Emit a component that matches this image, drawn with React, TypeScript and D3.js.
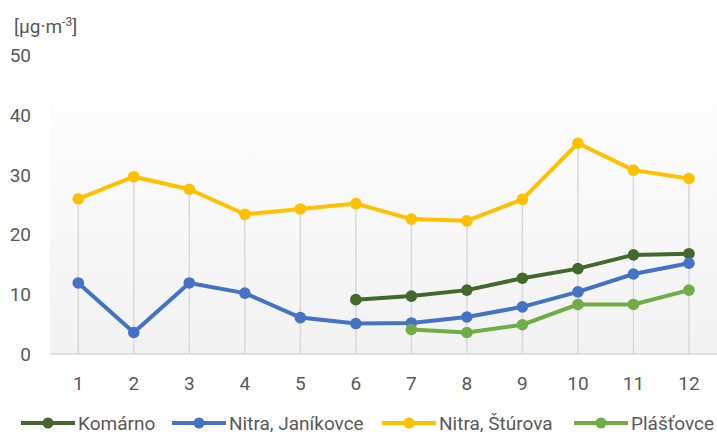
import React from "react";
import * as d3 from "d3";

const categories = ["1", "2", "3", "4", "5", "6", "7", "8", "9", "10", "11", "12"];
const yTicks = [0, 10, 20, 30, 40, 50];
const seriesNames = ["Komárno", "Nitra, Janíkovce", "Nitra, Štúrova", "Plášťovce"];
const komarno: (number | null)[] = [null, null, null, null, null, 9.1, 9.7, 10.7, 12.7, 14.3, 16.6, 16.8];
const janikovce: (number | null)[] = [11.9, 3.6, 11.9, 10.2, 6.1, 5.1, 5.2, 6.2, 7.9, 10.4, 13.4, 15.2];
const sturova: (number | null)[] = [26.0, 29.7, 27.6, 23.4, 24.3, 25.2, 22.6, 22.3, 25.9, 35.3, 30.8, 29.4];
const plastovce: (number | null)[] = [null, null, null, null, null, null, 4.1, 3.6, 4.9, 8.3, 8.3, 10.7];
const colors = ["#43682B", "#4472C4", "#FFC000", "#70AD47"];

const W = 717;
const H = 432;
const FONT = "Roboto, 'Open Sans', sans-serif";

export default function App() {
  const allSeries = [komarno, janikovce, sturova, plastovce];
  const x = d3.scalePoint<string>().domain(categories).range([50.5, 716.7]).padding(0.5);
  const y = d3.scaleLinear().domain([0, 50]).range([354, 55.5]);
  const line = d3
    .line<number | null>()
    .defined((d) => d != null)
    .x((_, i) => x(categories[i]) as number)
    .y((d) => y(d as number));

  const dropMax = categories.map((_, i) => {
    const vals = allSeries.map((s) => s[i]).filter((v) => v != null) as number[];
    return vals.length ? d3.max(vals)! : null;
  });

  const legendX = [21, 172, 382, 574];

  return (
    <svg width={W} height={H} style={{ position: "absolute", left: 0, top: 0 }} fontFamily={FONT}>
      <defs>
        <linearGradient id="bg" x1="0" y1="0" x2="0" y2="1">
          <stop offset="0%" stopColor="#ffffff" />
          <stop offset="100%" stopColor="#f2f2f2" />
        </linearGradient>
      </defs>
      <rect x={0} y={0} width={W} height={H} fill="#ffffff" />
      <rect x={50} y={y(50)} width={W - 50} height={y(0) - y(50)} fill="url(#bg)" />
      {/* drop lines */}
      {dropMax.map((m, i) =>
        m == null ? null : (
          <line key={i} x1={x(categories[i])} x2={x(categories[i])} y1={y(m)} y2={y(0)} stroke="#d9d9d9" strokeWidth={1.5} />
        )
      )}
      {/* axis line */}
      <line x1={50} x2={W} y1={y(0)} y2={y(0)} stroke="#d9d9d9" strokeWidth={1.5} />
      {/* y tick labels */}
      {yTicks.map((t) => (
        <text key={t} x={31} y={y(t)} dy="0.35em" textAnchor="end" fontSize={19} fill="#595959">
          {t}
        </text>
      ))}
      {/* unit */}
      <text x={14} y={26} dy="0.35em" fontSize={19} fill="#595959">
        [µg·m<tspan dy="-7" fontSize={12}>-3</tspan><tspan dy="7">]</tspan>
      </text>
      {/* x tick labels */}
      {categories.map((c) => (
        <text key={c} x={x(c)} y={383} dy="0.35em" textAnchor="middle" fontSize={19} fill="#595959">
          {c}
        </text>
      ))}
      {/* series */}
      {allSeries.map((s, si) => (
        <g key={si}>
          <path d={line(s) || ""} fill="none" stroke={colors[si]} strokeWidth={4} strokeLinejoin="round" />
          {s.map((v, i) =>
            v == null ? null : <circle key={i} cx={x(categories[i])} cy={y(v)} r={5.8} fill={colors[si]} />
          )}
        </g>
      ))}
      {/* legend */}
      {seriesNames.map((n, i) => (
        <g key={n} transform={`translate(${legendX[i]},423)`}>
          <line x1={0} x2={54} y1={0} y2={0} stroke={colors[i]} strokeWidth={4} />
          <circle cx={27} cy={0} r={5.5} fill={colors[i]} />
          <text x={57} y={0} dy="0.35em" fontSize={19} fill="#595959">
            {n}
          </text>
        </g>
      ))}
    </svg>
  );
}
